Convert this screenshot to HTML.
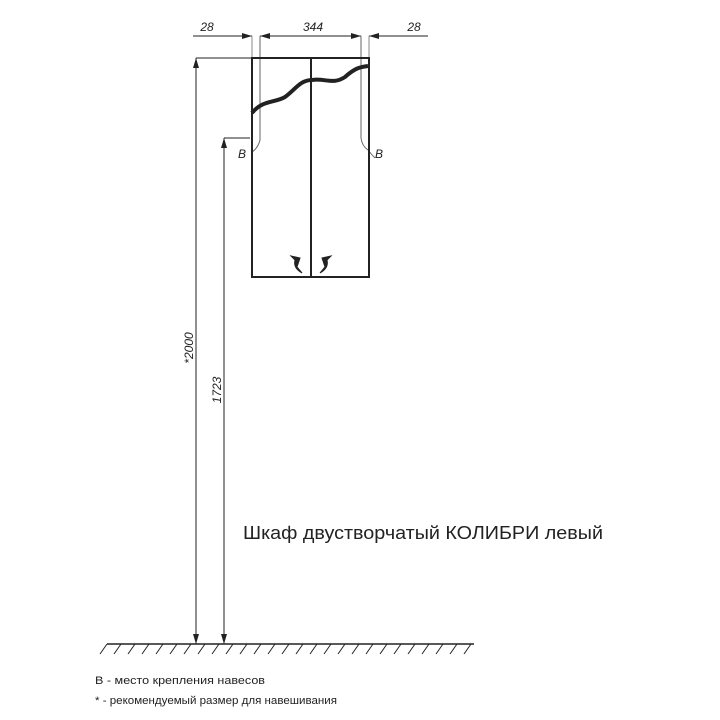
<!DOCTYPE html>
<html><head><meta charset="utf-8"><style>
html,body{margin:0;padding:0;background:#fff;width:720px;height:720px;overflow:hidden}
svg{display:block}
text{font-family:"Liberation Sans","DejaVu Sans",sans-serif;fill:#222}
</style></head><body>
<svg width="720" height="720" viewBox="0 0 720 720" xmlns="http://www.w3.org/2000/svg">
<defs><marker id="a" viewBox="0 0 10 6" refX="10" refY="3" markerWidth="10" markerHeight="6" orient="auto-start-reverse" markerUnits="userSpaceOnUse"><path d="M0,0 L10,3 L0,6 z" fill="#222"/></marker></defs>
<g stroke="#222" fill="none">
<line x1="193" y1="36" x2="252" y2="36" stroke-width="1" marker-end="url(#a)"/>
<line x1="260" y1="36" x2="361" y2="36" stroke-width="1" marker-start="url(#a)" marker-end="url(#a)"/>
<line x1="369" y1="36" x2="428" y2="36" stroke-width="1" marker-start="url(#a)"/>
<path d="M252,36 V130" stroke-width="1" stroke="#888"/>
<path d="M260,36 V140 Q258,148 252,152" stroke-width="1" stroke="#666"/>
<path d="M361,36 V138 Q362,146 368,150 Q372,155 375,158" stroke-width="1" stroke="#666"/>
<path d="M369,36 V58" stroke-width="1" stroke="#888"/>
<rect x="252" y="58" width="117" height="219" stroke-width="2"/>
<line x1="311" y1="58" x2="311" y2="277" stroke-width="2"/>
<path d="M252,113 C262,100 275,103 285,97 C295,90 300,80 312,80 C325,78 333,85 345,77 C355,68 360,67 368,66" stroke-width="4"/>
<path d="M291,256 L300,258 L297,267 L302,273 Q293,268 295,260 Z" fill="#222" stroke-width="1"/>
<path d="M331,256 L322,258 L325,267 L320,273 Q329,268 327,260 Z" fill="#222" stroke-width="1"/>
<line x1="252" y1="58" x2="196" y2="58" stroke-width="1"/>
<line x1="196" y1="58" x2="196" y2="644" stroke-width="1" marker-start="url(#a)" marker-end="url(#a)"/>
<line x1="250" y1="138" x2="224" y2="138" stroke-width="1"/>
<line x1="224" y1="138" x2="224" y2="644" stroke-width="1" marker-start="url(#a)" marker-end="url(#a)"/>
<line x1="107" y1="644" x2="474" y2="644" stroke-width="1.5"/>
<path d="M107,644 l-7,10 M121,644 l-7,10 M135,644 l-7,10 M149,644 l-7,10 M163,644 l-7,10 M177,644 l-7,10 M191,644 l-7,10 M205,644 l-7,10 M219,644 l-7,10 M233,644 l-7,10 M247,644 l-7,10 M261,644 l-7,10 M275,644 l-7,10 M289,644 l-7,10 M303,644 l-7,10 M317,644 l-7,10 M331,644 l-7,10 M345,644 l-7,10 M359,644 l-7,10 M373,644 l-7,10 M387,644 l-7,10 M401,644 l-7,10 M415,644 l-7,10 M429,644 l-7,10 M443,644 l-7,10 M457,644 l-7,10 M471,644 l-7,10" stroke-width="1"/>
</g>
<g font-style="italic" font-size="12">
<text x="207" y="31" text-anchor="middle">28</text>
<text x="313" y="31" text-anchor="middle">344</text>
<text x="414" y="31" text-anchor="middle">28</text>
<text x="238" y="158">В</text>
<text x="375" y="158">В</text>
<text transform="translate(193,348) rotate(-90)" text-anchor="middle">*2000</text>
<text transform="translate(221,390) rotate(-90)" text-anchor="middle">1723</text>
</g>
<text x="243" y="539" font-size="18" textLength="360" lengthAdjust="spacingAndGlyphs">Шкаф двустворчатый КОЛИБРИ левый</text>
<text x="95" y="684" font-size="11" textLength="170" lengthAdjust="spacingAndGlyphs">В  - место крепления навесов</text>
<text x="95" y="704" font-size="11" textLength="242" lengthAdjust="spacingAndGlyphs">*  - рекомендуемый размер для навешивания</text>
</svg>
</body></html>
